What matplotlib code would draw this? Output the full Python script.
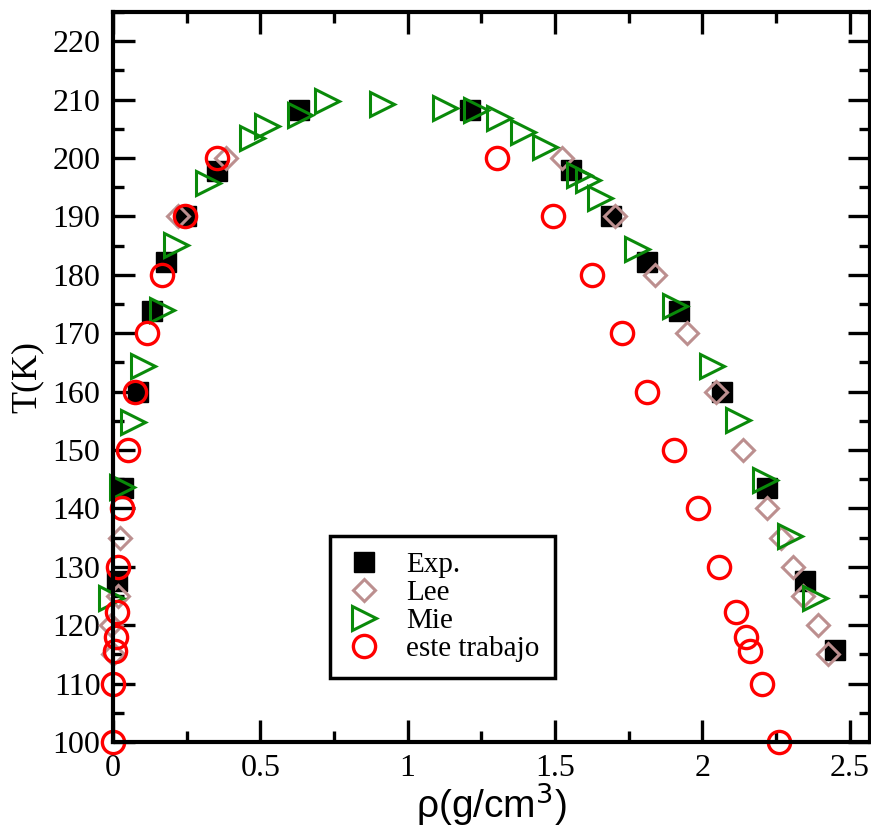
import matplotlib
matplotlib.use('Agg')
from matplotlib import pyplot as plt
from matplotlib.ticker import MultipleLocator

# datos: densidad (g/cm3) y temperatura (K)
exp_rho = [0.012, 0.035, 0.085, 0.131, 0.18, 0.247, 0.352, 0.632,
           1.212, 1.554, 1.689, 1.814, 1.922, 2.066, 2.219, 2.349, 2.451]
exp_T = [127.5, 143.5, 160.0, 173.8, 182.2, 190.0, 197.8, 208.3,
         208.3, 198.0, 190.0, 182.2, 173.8, 160.0, 143.5, 127.5, 115.8]

lee_rho = [0.0, -0.005, 0.018, 0.024, 0.222, 0.385,
           1.523, 1.704, 1.84, 1.947, 2.047, 2.137, 2.221, 2.266, 2.309, 2.343, 2.394, 2.428]
lee_T = [115, 120, 125, 135, 190, 200,
         200, 190, 180, 170, 160, 150, 140, 135, 130, 125, 120, 115]

mie_rho = [-0.005, 0.03, 0.069, 0.103, 0.165, 0.214, 0.324, 0.471, 0.522, 0.635, 0.725, 0.912,
           1.127, 1.232, 1.311, 1.393, 1.466, 1.583, 1.613, 1.653, 1.778, 1.908, 2.032,
           2.123, 2.213, 2.298, 2.383]
mie_T = [124.6, 143.6, 154.8, 164.3, 174.0, 185.1, 195.7, 203.4, 205.4, 207.4, 209.8, 209.2,
         208.6, 208.3, 206.8, 204.4, 201.9, 197.1, 196.2, 193.1, 184.5, 174.7, 164.3,
         155.1, 144.9, 135.3, 124.6]

este_rho = [0.0, 0.0, 0.007, 0.01, 0.012, 0.018, 0.03, 0.052, 0.075, 0.114, 0.165, 0.244, 0.352,
            1.302, 1.492, 1.625, 1.727, 1.814, 1.904, 1.987, 2.057, 2.115, 2.148, 2.162, 2.202, 2.262]
este_T = [100, 110, 115.6, 118.0, 122.3, 130, 140, 150, 160, 170, 180, 190, 200,
          200, 190, 180, 170, 160, 150, 140, 130, 122.3, 118.0, 115.6, 110, 100]

fig = plt.figure(figsize=(8.71, 8.35), dpi=100)
ax = fig.add_axes([0.1297, 0.1114, 0.8693, 0.8742])

ax.plot(exp_rho, exp_T, 's', color='black', markersize=14, label='Exp.', clip_on=False)
ax.plot(lee_rho, lee_T, 'D', color='#bc8f8f', markerfacecolor='none', markersize=11,
        markeredgewidth=2.2, label='Lee', clip_on=False)
ax.plot(mie_rho, mie_T, '>', color='#0a8a0a', markerfacecolor='none', markersize=17,
        markeredgewidth=2.2, label='Mie', clip_on=False)
ax.plot(este_rho, este_T, 'o', color='red', markerfacecolor='none', markersize=16,
        markeredgewidth=2.4, label='este trabajo', clip_on=False)

ax.set_xlim(0, 2.57)
ax.set_ylim(100, 225)
ax.xaxis.set_minor_locator(MultipleLocator(0.25))
ax.yaxis.set_minor_locator(MultipleLocator(5))
ax.set_xticks([0, 0.5, 1, 1.5, 2, 2.5], ['0', '0.5', '1', '1.5', '2', '2.5'])
ax.set_yticks(range(100, 221, 10))

ax.tick_params(which='both', direction='in', top=True, right=True, width=2.4)
ax.tick_params(which='major', length=16, pad=9)
ax.tick_params(which='minor', length=8)
for lbl in ax.get_xticklabels() + ax.get_yticklabels():
    lbl.set_family('Liberation Serif')
    lbl.set_fontsize(23)
for s in ax.spines.values():
    s.set_linewidth(3)

ax.set_xlabel('ρ(g/cm$^3$)', family='Liberation Sans', fontsize=28, labelpad=-2)
ax.set_ylabel('T(K)', family='Liberation Serif', fontsize=26, labelpad=6)

leg = ax.legend(loc='lower left', bbox_to_anchor=(0.2867, 0.0877), borderaxespad=0,
                frameon=True, fancybox=False, framealpha=1,
                prop={'family': 'Liberation Serif', 'size': 21}, labelspacing=0.05,
                handletextpad=0.85, borderpad=0.55, handlelength=1.2, numpoints=1)
leg.get_frame().set_edgecolor('black')
leg.get_frame().set_linewidth(2.5)

fig.savefig('out.png', dpi=100)
